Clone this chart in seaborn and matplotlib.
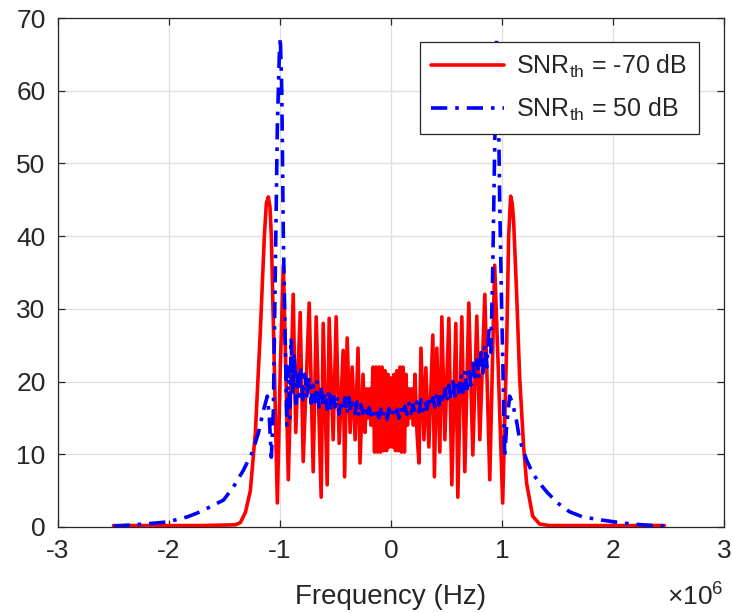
import numpy as np
import pandas as pd
import matplotlib
matplotlib.use("Agg")
import matplotlib.pyplot as plt
from matplotlib.ticker import ScalarFormatter
import seaborn as sns

# ---------------- data (frequency in MHz, amplitude) ----------------
red_x = [-2.50, -1.716, -1.402, -1.357, -1.312, -1.267, -1.222, -1.177, -1.141, -1.123,
         -1.105, -1.090, -1.078, -1.051, -1.024, -0.997, -0.970, -0.948, -0.925, -0.881,
         -0.858, -0.818, -0.791, -0.737, -0.701, -0.674, -0.629, -0.611, -0.575, -0.557,
         -0.521, -0.494, -0.467, -0.431, -0.418, -0.395, -0.368, -0.350, -0.323, -0.297,
         -0.279, -0.252, -0.234, -0.220, -0.207, -0.193, -0.180, -0.162, -0.148, -0.135,
         -0.121, -0.108, -0.094, -0.081, -0.067, -0.054, -0.040, -0.027, -0.013, 0.000,
         0.013, 0.027, 0.040, 0.054, 0.067, 0.081, 0.094, 0.108, 0.121, 0.135,
         0.148, 0.162, 0.175, 0.189, 0.202, 0.216, 0.234, 0.252, 0.270, 0.297,
         0.314, 0.341, 0.377, 0.391, 0.413, 0.440, 0.458, 0.485, 0.521, 0.548,
         0.584, 0.602, 0.638, 0.665, 0.701, 0.737, 0.773, 0.800, 0.845, 0.890,
         0.934, 0.966, 1.006, 1.042, 1.060, 1.078, 1.092, 1.105, 1.132, 1.159,
         1.195, 1.222, 1.276, 1.339, 1.429, 2.462]
red_y = [0.2, 0.2, 0.3, 0.6, 2.0, 5.0, 13.0, 27.0, 40.0, 44.5,
         45.4, 44.0, 40.0, 22.0, 3.3, 22.0, 36.0, 22.0, 6.5, 32.0,
         13.0, 29.5, 9.0, 30.8, 7.6, 28.9, 4.1, 28.0, 5.8, 28.7,
         12.0, 28.9, 11.5, 24.3, 6.9, 26.0, 13.0, 22.0, 12.0, 24.6,
         8.8, 21.0, 13.0, 19.0, 15.0, 19.0, 14.0, 22.0, 10.3, 22.0,
         10.3, 22.0, 10.3, 22.0, 10.5, 21.5, 10.5, 21.0, 11.0, 20.5,
         11.0, 21.0, 10.5, 21.5, 10.5, 22.0, 10.3, 22.0, 10.3, 21.0,
         14.0, 19.0, 15.0, 19.0, 14.0, 21.0, 13.0, 8.8, 24.6, 12.0,
         21.9, 11.0, 26.4, 6.9, 24.6, 10.3, 28.9, 12.0, 28.7, 5.8,
         28.0, 4.1, 28.9, 7.6, 30.8, 9.9, 29.0, 12.0, 32.0, 6.5,
         36.0, 22.0, 3.3, 25.0, 40.0, 45.5, 44.5, 42.0, 32.0, 20.6,
         11.0, 6.0, 1.5, 0.4, 0.2, 0.2]

blue_x = [-2.50, -2.23, -2.01, -1.833, -1.716, -1.599, -1.509, -1.420, -1.330, -1.249,
          -1.195, -1.150, -1.114, -1.096, -1.078, -1.060, -1.042, -1.024, -1.006, -0.997,
          -0.984, -0.970, -0.952, -0.939, -0.925, -0.912, -0.899, -0.885, -0.872, -0.858,
          -0.845,
          -0.828, -0.810, -0.792, -0.774, -0.756, -0.738, -0.720, -0.702, -0.684, -0.666,
          -0.648, -0.630, -0.612, -0.594, -0.576, -0.558, -0.540, -0.522, -0.504, -0.486,
          -0.468, -0.450, -0.432, -0.414, -0.396, -0.378, -0.360, -0.342, -0.324, -0.306,
          -0.288, -0.270, -0.252, -0.234, -0.216, -0.198, -0.180, -0.162, -0.144, -0.126,
          -0.108, -0.090, -0.072, -0.054, -0.036, -0.018, 0.000, 0.018, 0.036, 0.054,
          0.072, 0.090, 0.108, 0.126, 0.144, 0.162, 0.180, 0.198, 0.216, 0.234,
          0.252, 0.270, 0.288, 0.306, 0.324, 0.342, 0.360, 0.378, 0.396, 0.414,
          0.432, 0.450, 0.468, 0.486, 0.504, 0.522, 0.540, 0.558, 0.576, 0.594,
          0.612, 0.630, 0.648, 0.666, 0.684, 0.702, 0.720, 0.738, 0.756, 0.774,
          0.792, 0.810, 0.828, 0.846, 0.864, 0.882, 0.900,
          0.916, 0.934, 0.952, 0.966, 0.979, 0.997, 1.011, 1.024, 1.042, 1.069,
          1.096, 1.132, 1.159, 1.222, 1.276, 1.339, 1.411, 1.501, 1.608, 1.725,
          1.878, 2.084, 2.264, 2.480]
blue_y = [0.1, 0.4, 0.7, 1.4, 2.1, 3.0, 3.7, 5.5, 7.8, 10.3,
          12.9, 16.0, 18.0, 15.0, 9.6, 16.0, 35.0, 55.0, 65.0, 67.3,
          60.0, 40.0, 25.0, 14.0, 22.0, 15.0, 26.0, 18.0, 24.0, 17.0,
          21.0,
          18, 22, 17.5, 21, 17.5, 20.5, 17, 19.5, 17.2, 20,
          16.5, 19.2, 16.8, 18.5, 16.2, 19, 16, 18.3, 16.5, 18,
          15.5, 17.5, 16.2, 17.8, 15.5, 17.8, 15.8, 17, 15.6, 17.2,
          15.2, 16.8, 15.6, 16.6, 15.0, 16.4, 15.4, 16.2, 15.3, 16.1,
          15, 16.2, 15.2, 16, 14.8, 16.3, 15.2, 16, 15.3, 16.2,
          15, 16.4, 15.3, 16.6, 15.5, 17, 15.6, 16.8, 15.8, 17.2,
          15.8, 17.5, 16, 17.3, 16.2, 18, 16.5, 17.8, 16.5, 18.5,
          16.8, 18.5, 17, 19, 17.2, 19.5, 17.5, 20, 18, 20,
          18.5, 21, 18.5, 21.5, 19, 22, 19.5, 22.5, 20, 23,
          20.5, 24, 21, 25, 22, 27, 24,
          35.0, 52.0, 67.3, 60.0, 45.0, 30.0, 20.0, 9.6, 14.0, 18.0,
          17.0, 14.5, 12.0, 9.2, 7.4, 6.0, 4.7, 3.3, 2.1, 1.4,
          1.0, 0.55, 0.3, 0.1]

labels = [r"SNR$_{\mathrm{th}}$ = -70 dB", r"SNR$_{\mathrm{th}}$ = 50 dB"]
x_ticks = [-3, -2, -1, 0, 1, 2, 3]
y_ticks = [0, 10, 20, 30, 40, 50, 60, 70]

# ---------------- styling ----------------
sns.set_style("ticks")
plt.rcParams["font.family"] = ["Liberation Sans", "DejaVu Sans"]
plt.rcParams["mathtext.fontset"] = "custom"
plt.rcParams["mathtext.rm"] = "Liberation Sans"
plt.rcParams["mathtext.it"] = "Liberation Sans:italic"
plt.rcParams["axes.unicode_minus"] = False

TXT = "#262626"

fig = plt.figure(figsize=(7.32, 6.13), dpi=100)
ax = fig.add_axes([58 / 732, 1 - 527 / 613, (724 - 58) / 732, (527 - 18) / 613])

df_red = pd.DataFrame({"f": np.array(red_x) * 1e6, "a": red_y})
df_blue = pd.DataFrame({"f": np.array(blue_x) * 1e6, "a": blue_y})

sns.lineplot(data=df_red, x="f", y="a", ax=ax, color="#FF0000", lw=2.6,
             sort=False, estimator=None, zorder=3)
sns.lineplot(data=df_blue, x="f", y="a", ax=ax, color="#0000FF", lw=2.6,
             sort=False, estimator=None, zorder=4)
red_line, blue_line = ax.lines[0], ax.lines[1]
blue_line.set_dashes((4.5, 2.2, 1, 2.2))


class PlainSci(ScalarFormatter):
    """Plain hyphen tick labels, keeps the x10^n offset."""
    def __call__(self, x, pos=None):
        if len(self.locs) == 0:
            return ""
        v = x / 10 ** self.orderOfMagnitude
        return f"{v:g}"


ax.set_xlim(-3e6, 3e6)
ax.set_ylim(0, 70)
ax.set_xticks([v * 1e6 for v in x_ticks])
ax.set_yticks(y_ticks)
fmt = PlainSci(useMathText=True)
ax.xaxis.set_major_formatter(fmt)

ax.grid(True, color="#DFDFDF", lw=0.9)
ax.set_axisbelow(True)
for s in ax.spines.values():
    s.set_color(TXT)
    s.set_linewidth(0.9)
    s.set_visible(True)
ax.tick_params(direction="in", length=5, width=0.9, colors=TXT,
               labelsize=19, top=True, right=True, pad=9)

ax.set_xlabel("Frequency (Hz)", fontsize=20, color=TXT, labelpad=15)
ax.set_ylabel("")

leg = ax.legend([red_line, blue_line], labels, loc="upper right",
                bbox_to_anchor=(0.962, 0.953), borderaxespad=0, fontsize=18,
                handlelength=2.9, fancybox=False, framealpha=1,
                edgecolor=TXT, labelspacing=0.6, handletextpad=0.5,
                borderpad=0.45)
leg.get_frame().set_linewidth(0.9)

# offset text (x10^6) placed like the reference
fig.canvas.draw()
off = ax.xaxis.get_major_formatter().get_offset()
ax.xaxis.get_offset_text().set_visible(False)
ax.text(1.0, -0.155, off, transform=ax.transAxes, ha="right", va="baseline",
        fontsize=19, color=TXT)

fig.savefig("out.png", dpi=100)
